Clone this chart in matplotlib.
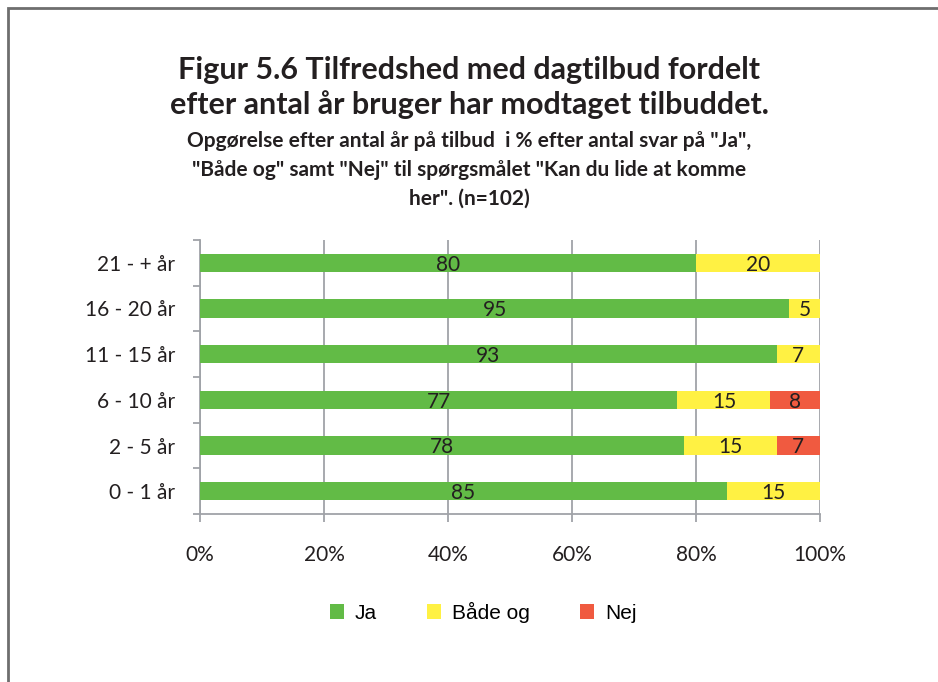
import numpy as np
import matplotlib
matplotlib.use("Agg")
import matplotlib.pyplot as plt
from matplotlib.patches import Rectangle, Patch

# Satisfaction by years of use (percent of answers)
groups = ["0 - 1 år", "2 - 5 år", "6 - 10 år", "11 - 15 år", "16 - 20 år", "21 - + år"]
ja = [85, 78, 77, 93, 95, 80]
begge = [15, 15, 15, 7, 5, 20]
nej = [0, 7, 8, 0, 0, 0]
series_names = ["Ja", "Både og", "Nej"]
colors = ["#62BB46", "#FFF143", "#F05A40"]
xticks = [0, 20, 40, 60, 80, 100]

fig = plt.figure(figsize=(9.38, 6.82), dpi=100)

# grey frame around the chart area (right and bottom edges fall outside)
fig.patches.append(Rectangle((8 / 938, -0.2), 1.2, 1.2 - 8 / 682,
                             transform=fig.transFigure, fill=False,
                             edgecolor="#6E6E6E", linewidth=2))

fig.text(0.5, 1 - 70 / 682, "Figur 5.6 Tilfredshed med dagtilbud fordelt",
         ha="center", va="center", fontsize=22, fontweight="bold",
         family="Lato", color="#231F20")
fig.text(0.5, 1 - 105 / 682, "efter antal år bruger har modtaget tilbuddet.",
         ha="center", va="center", fontsize=22, fontweight="bold",
         family="Lato", color="#231F20")
sub = ['Opgørelse efter antal år på tilbud  i % efter antal svar på "Ja",',
       '"Både og" samt "Nej" til spørgsmålet "Kan du lide at komme',
       'her". (n=102)']
for i, line in enumerate(sub):
    fig.text(0.5, 1 - (141 + 29 * i) / 682, line, ha="center", va="center",
             fontsize=15, fontweight="bold", family="Lato", color="#231F20")

ax = fig.add_axes([200 / 938, 1 - 514 / 682, 620 / 938, 274 / 682])

y = np.arange(len(groups))
left = np.zeros(len(groups))
for vals, name, col in zip([ja, begge, nej], series_names, colors):
    vals = np.array(vals, dtype=float)
    bars = ax.barh(y, vals, left=left, height=0.4, color=col, label=name, zorder=3)
    for b, v in zip(bars, vals):
        if v > 0:
            ax.text(b.get_x() + b.get_width() / 2, b.get_y() + b.get_height() / 2 - 0.04,
                    f"{int(v)}", ha="center", va="center", fontsize=15,
                    family="Lato", color="#231F20", zorder=4)
    left += vals

ax.set_xlim(0, 100)
ax.set_ylim(-0.5, len(groups) - 0.5)
ax.set_xticks(xticks)
ax.set_xticklabels([f"{t}%" for t in xticks], family="Lato", fontsize=15, color="#231F20")
ax.set_yticks(y)
ax.set_yticklabels(groups, family="Lato", fontsize=15, color="#231F20")
ax.set_yticks(np.arange(-0.5, len(groups)), minor=True)
ax.tick_params(axis="y", which="major", length=0, pad=18)
ax.tick_params(axis="y", which="minor", length=5, color="#A0A3A8", width=1.3)
ax.tick_params(axis="x", length=6, color="#A0A3A8", width=1.3, pad=16)
ax.grid(axis="x", color="#A0A3A8", linewidth=1.3, zorder=0)
for s in ["top", "right"]:
    ax.spines[s].set_visible(False)
for s in ["left", "bottom"]:
    ax.spines[s].set_color("#A0A3A8")
    ax.spines[s].set_linewidth(1.3)

handles = [Patch(facecolor=c, label=n) for c, n in zip(colors, series_names)]
fig.legend(handles=handles, loc="center", bbox_to_anchor=(483 / 938, 1 - 612 / 682),
           ncol=3, frameon=False, handlelength=0.7, handleheight=0.7,
           columnspacing=2.4, handletextpad=0.5,
           prop={"family": "Liberation Sans", "size": 15})

fig.savefig("out.png", dpi=100, facecolor="white")
